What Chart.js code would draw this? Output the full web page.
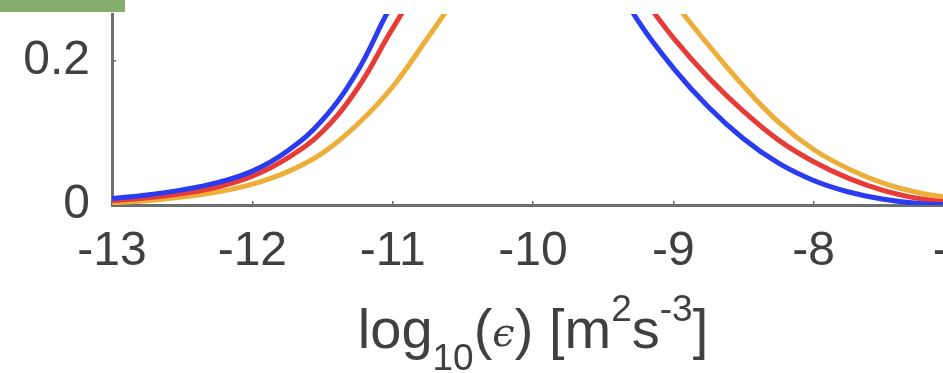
<!DOCTYPE html>
<html>
<head>
<meta charset="utf-8">
<script src="https://cdn.jsdelivr.net/npm/chart.js@4.4.0/dist/chart.umd.min.js"></script>
<style>
html, body { margin: 0; padding: 0; background: #fff; overflow: hidden; }
#wrap { width: 943px; height: 373px; overflow: hidden; position: relative; }
canvas { display: block; }
</style>
</head>
<body>
<div id="wrap"><canvas id="chart" width="994" height="373"></canvas></div>
<script>
// log10(epsilon) grid, every 0.25
const xValues = [-13, -12.75, -12.5, -12.25, -12, -11.75, -11.5, -11.25, -11, -10.75, -10.5, -10.25,
                 -10, -9.75, -9.5, -9.25, -9, -8.75, -8.5, -8.25, -8, -7.75, -7.5, -7.25, -7];
// values above ~0.26 are outside the crop, estimated
const blueValues   = [0.009, 0.014, 0.021, 0.031, 0.047, 0.075, 0.118, 0.186, 0.28, 0.35, 0.40, 0.43,
                      0.43, 0.40, 0.34, 0.255, 0.19, 0.136, 0.092, 0.058, 0.034, 0.018, 0.008, 0.002, 0.0];
const redValues    = [0.006, 0.010, 0.016, 0.025, 0.040, 0.065, 0.102, 0.162, 0.245, 0.32, 0.37, 0.40,
                      0.41, 0.39, 0.35, 0.295, 0.232, 0.177, 0.13, 0.09, 0.060, 0.037, 0.020, 0.009, 0.003];
const orangeValues = [0.003, 0.006, 0.011, 0.018, 0.029, 0.046, 0.072, 0.112, 0.164, 0.232, 0.30, 0.355,
                      0.385, 0.395, 0.38, 0.34, 0.282, 0.222, 0.165, 0.115, 0.077, 0.05, 0.03, 0.017, 0.009];
const xTicks = [-13, -12, -11, -10, -9, -8, -7];
const yTicks = [0, 0.2];

const TICK_FONT = { family: '"Liberation Sans", Arial, sans-serif', size: 48 };
const AXIS_GREY = '#6e6e6e';

function toPoints(ys) {
    return xValues.map((x, i) => ({ x: x, y: ys[i] }));
}

// axis title with sub/superscripts, drawn as canvas text
const titleParts = [
    { t: 'log', size: 56, dy: 0 },
    { t: '10', size: 37, dy: 22 },
    { t: '(', size: 56, dy: 0 },
    { t: '\u03F5', size: 40, dy: -2, font: 'italic', family: '"DejaVu Serif", serif' },
    { t: ') [m', size: 56, dy: 0 },
    { t: '2', size: 37, dy: -27 },
    { t: 's', size: 56, dy: 0 },
    { t: '-3', size: 37, dy: -27 },
    { t: ']', size: 56, dy: 0 }
];

const xTitlePlugin = {
    id: 'xTitle',
    afterDraw(chart) {
        const ctx = chart.ctx;
        const sx = chart.scales.x;
        ctx.save();
        ctx.fillStyle = '#404040';
        ctx.textBaseline = 'alphabetic';
        const fontOf = p => (p.font ? p.font + ' ' : '') + p.size + 'px ' + (p.family || TICK_FONT.family);
        let total = 0;
        for (let p of titleParts) {
            ctx.font = fontOf(p);
            total += ctx.measureText(p.t).width;
        }
        let x = (sx.left + sx.right) / 2 - total / 2;
        const base = 348;
        for (let p of titleParts) {
            ctx.font = fontOf(p);
            ctx.fillText(p.t, x, base + p.dy);
            x += ctx.measureText(p.t).width;
        }
        ctx.restore();
    }
};

// green strip left over from the crop, top-left corner
const cornerPlugin = {
    id: 'corner',
    beforeDraw(chart) {
        const ctx = chart.ctx;
        ctx.save();
        ctx.fillStyle = '#86ad6b';
        ctx.fillRect(0, 0, 125, 12);
        ctx.restore();
    }
};

const ctx = document.getElementById('chart').getContext('2d');
new Chart(ctx, {
    type: 'line',
    data: {
        datasets: [
            { label: 'blue', data: toPoints(blueValues), borderColor: '#2a3cf2' },
            { label: 'red', data: toPoints(redValues), borderColor: '#e83a36' },
            { label: 'orange', data: toPoints(orangeValues), borderColor: '#eeae3a' }
        ].map(d => Object.assign(d, {
            borderWidth: 5,
            pointRadius: 0,
            fill: false,
            tension: 0.4,
            clip: 0
        }))
    },
    options: {
        responsive: false,
        animation: false,
        events: [],
        layout: { padding: { top: 14, right: 40, left: 0, bottom: 0 } },
        plugins: { legend: { display: false }, tooltip: { enabled: false } },
        scales: {
            x: {
                type: 'linear',
                min: xTicks[0],
                max: xTicks[xTicks.length - 1],
                afterBuildTicks(scale) { scale.ticks = xTicks.map(v => ({ value: v })); },
                afterFit(scale) { scale.height = 168; scale.paddingLeft = 0; scale.paddingRight = 0; },
                ticks: { color: '#404040', font: TICK_FONT, padding: 22, maxRotation: 0, autoSkip: false },
                grid: { drawOnChartArea: false, drawTicks: true, tickLength: -4, color: AXIS_GREY, lineWidth: 1.5 },
                border: { display: true, color: AXIS_GREY, width: 3 }
            },
            y: {
                min: 0,
                max: 0.265,
                afterBuildTicks(scale) { scale.ticks = yTicks.map(v => ({ value: v })); },
                afterFit(scale) { scale.width = 112; scale.paddingTop = 0; scale.paddingBottom = 0; },
                ticks: { color: '#404040', font: TICK_FONT, padding: 26, callback: v => String(v) },
                grid: { drawOnChartArea: false, drawTicks: true, tickLength: -4, color: AXIS_GREY, lineWidth: 1.5 },
                border: { display: true, color: AXIS_GREY, width: 3 }
            }
        }
    },
    plugins: [cornerPlugin, xTitlePlugin]
});
</script>
</body>
</html>
